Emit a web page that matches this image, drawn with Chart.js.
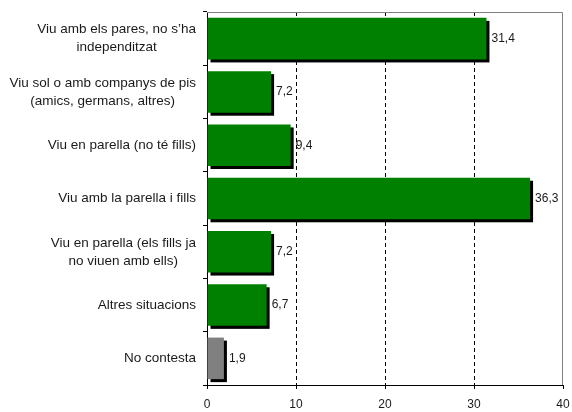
<!DOCTYPE html>
<html>
<head>
<meta charset="utf-8">
<script src="https://cdn.jsdelivr.net/npm/chart.js@4"></script>
<style>
  body { margin: 0; background: #fff; }
</style>
</head>
<body>
<canvas id="c" width="572" height="412"></canvas>
<script>
// categories, each one an array of label lines
const categories = [
  ['Viu amb els pares, no s\u2019ha', 'independitzat'],
  ['Viu sol o amb companys de pis', '(amics, germans, altres)'],
  ['Viu en parella (no té fills)'],
  ['Viu amb la parella i fills'],
  ['Viu en parella (els fills ja', 'no viuen amb ells)'],
  ['Altres situacions'],
  ['No contesta'],
];
const values = [31.4, 7.2, 9.4, 36.3, 7.2, 6.7, 1.9];
const barColors = ['#008000', '#008000', '#008000', '#008000', '#008000', '#008000', '#808080'];
const xTicks = [0, 10, 20, 30, 40];

const FONT = 'Liberation Sans, Arial, sans-serif';
const SHADOW = 3;

// black drop shadow under every bar, value labels, category labels, grey frame
const shadowPlugin = {
  id: 'barShadow',
  beforeDatasetsDraw(chart) {
    const { ctx } = chart;
    ctx.save();
    ctx.fillStyle = '#000';
    chart.getDatasetMeta(0).data.forEach(bar => {
      const top = bar.y - bar.height / 2;
      ctx.fillRect(bar.base + SHADOW, top + SHADOW, bar.x - bar.base, bar.height);
    });
    ctx.restore();
  },
  afterDatasetsDraw(chart) {
    const { ctx } = chart;
    ctx.save();
    ctx.font = '12px ' + FONT;
    ctx.fillStyle = '#1a1a1a';
    ctx.textBaseline = 'middle';
    ctx.textAlign = 'left';
    chart.getDatasetMeta(0).data.forEach((bar, i) => {
      ctx.fillText(values[i].toFixed(1).replace('.', ','), bar.x + SHADOW + 2, bar.y);
    });
    ctx.restore();
  },
  afterDraw(chart) {
    const { ctx, chartArea: a } = chart;
    ctx.save();
    ctx.strokeStyle = '#808080';
    ctx.lineWidth = 1;
    ctx.setLineDash([]);
    ctx.beginPath();
    ctx.moveTo(a.left, Math.round(a.top) + 0.5);
    ctx.lineTo(Math.round(a.right) - 0.5, Math.round(a.top) + 0.5);
    ctx.lineTo(Math.round(a.right) - 0.5, a.bottom);
    ctx.stroke();

    // category labels: block right-aligned, lines centred within block
    const y = chart.scales.y;
    const lh = 18;
    ctx.font = '13.5px ' + FONT;
    ctx.fillStyle = '#1a1a1a';
    ctx.textBaseline = 'middle';
    ctx.textAlign = 'center';
    categories.forEach((lines, i) => {
      const w = Math.max(...lines.map(l => ctx.measureText(l).width));
      const cx = a.left - 11 - w / 2;
      const cy = y.getPixelForValue(i);
      lines.forEach((l, k) => {
        ctx.fillText(l, cx, cy + (k - (lines.length - 1) / 2) * lh);
      });
    });
    ctx.restore();
  },
};

new Chart(document.getElementById('c'), {
  type: 'bar',
  data: {
    labels: categories.map(l => l.join(' ')),
    datasets: [{
      data: values,
      backgroundColor: barColors,
      borderWidth: 0,
      categoryPercentage: 1,
      barPercentage: 0.78,
    }],
  },
  options: {
    indexAxis: 'y',
    responsive: false,
    animation: false,
    layout: { padding: { top: 12, right: 9, left: 0, bottom: 0 } },
    plugins: {
      legend: { display: false },
      tooltip: { enabled: false },
    },
    scales: {
      x: {
        min: 0,
        max: 40,
        afterBuildTicks: s => { s.ticks = xTicks.map(v => ({ value: v })); },
        afterFit: s => { s.height = 27; s.paddingLeft = 0; s.paddingRight = 0; },
        grid: {
          color: c => (c.tick && (c.tick.value === 0 || c.tick.value === 40)) ? 'rgba(0,0,0,0)' : '#000',
          lineWidth: 1,
          tickColor: '#000',
          tickLength: 4,
          tickBorderDash: [],
        },
        border: { display: true, color: '#000', width: 1, dash: [4, 3] },
        ticks: {
          color: '#1a1a1a',
          padding: 8,
          font: { family: FONT, size: 12 },
        },
      },
      y: {
        afterFit: s => { s.width = 207; },
        grid: {
          drawOnChartArea: false,
          offset: true,
          color: '#000',
          tickLength: 4,
        },
        border: { display: true, color: '#000', width: 1 },
        ticks: { display: false },
      },
    },
  },
  plugins: [shadowPlugin],
});
</script>
</body>
</html>
